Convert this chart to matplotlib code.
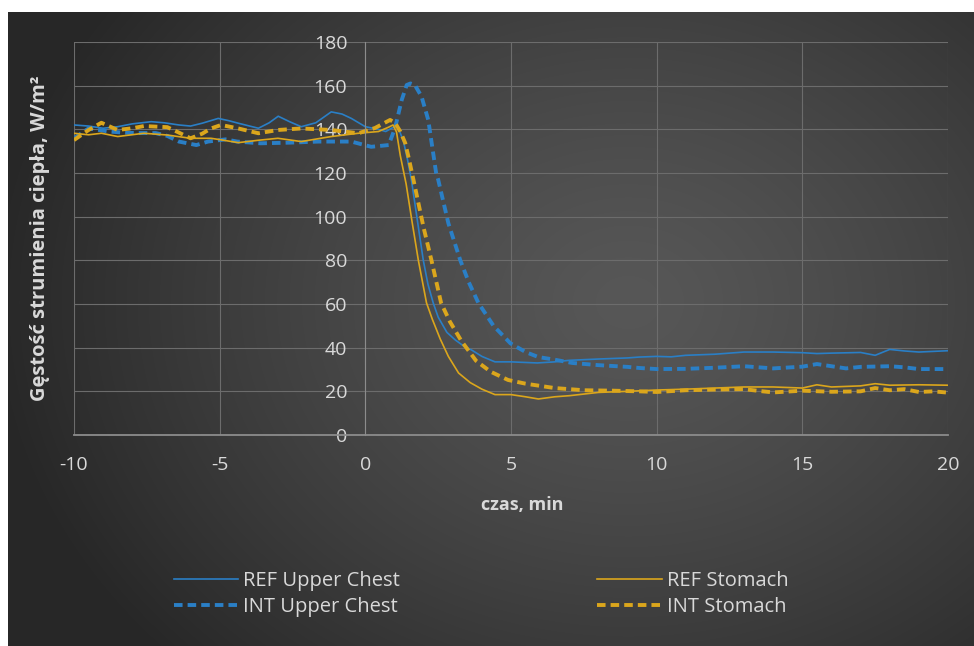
import matplotlib
matplotlib.use('Agg')
import matplotlib.pyplot as plt
import numpy as np

plt.rcParams['axes.unicode_minus'] = False

# REF Upper Chest
t_ref_chest = [-10, -9.5, -9, -8.5, -8, -7.35, -6.9, -6.4, -6, -5.6, -5.05, -4.7, -4.36, -3.67, -3.3,
               -2.99, -2.6, -2.2, -1.7, -1.17, -0.8, -0.48, 0, 0.45, 0.7, 0.9, 1.1, 1.3, 1.45, 1.58,
               1.8, 1.99, 2.15, 2.33, 2.5, 2.8, 3.09, 3.4, 3.64, 4.0, 4.45, 5, 5.9, 6.5, 7, 8, 9, 9.4,
               10, 10.5, 11, 12, 13, 14, 15, 15.5, 16, 17, 17.5, 18, 18.5, 19, 19.5, 20]
v_ref_chest = [142, 141.5, 140.5, 141.2, 142.5, 143.5, 143, 142, 141.5, 142.8, 145, 144, 142.8, 140.5, 143,
               146, 143.5, 141.2, 143, 148, 147, 145, 141.2, 140, 139, 140.5, 141.5, 135, 126, 117,
               97, 80, 69, 60.5, 54, 47, 43.5, 40.5, 39, 36, 33.5, 33.5, 33, 33.5, 34.2, 34.8, 35.3, 35.7,
               36, 35.8, 36.5, 37, 38, 38, 37.7, 37.3, 37.5, 37.8, 36.5, 39.2, 38.5, 38, 38.3, 38.6]

# INT Upper Chest
t_int_chest = [-10, -9.5, -8.8, -8.3, -7.9, -7.2, -6.8, -6.4, -5.8, -5.4, -4.8, -4.4, -3.6, -2.6, -1.6,
               -0.48, 0.2, 0.8, 1.02, 1.25, 1.42, 1.55, 1.7, 1.93, 2.16, 2.43, 2.5, 2.85, 3.26, 3.55,
               3.88, 4.4, 4.98, 5.5, 5.94, 6.5, 7.1, 8, 9, 9.4, 10, 11, 12, 13, 13.5, 14, 15, 15.5, 16,
               16.5, 17, 18, 18.5, 19, 20]
v_int_chest = [135.9, 140.4, 139, 138.5, 138.3, 138.3, 137, 134.4, 132.8, 134.4, 135.4, 134.4, 133.6, 133.9, 134.4,
               134.4, 132, 132.8, 140.6, 153.5, 160.3, 161, 160.3, 155, 144.3, 120, 117, 97, 80, 70,
               60.5, 50, 42, 38, 35.7, 34.5, 33, 32, 31.2, 30.7, 30.2, 30.3, 30.8, 31.5, 31, 30.5, 31.3, 32.5, 31.5,
               30.5, 31.2, 31.5, 31, 30.2, 30.2]

# REF Stomach
t_ref_stom = [-10, -9.5, -9.06, -8.5, -7.6, -6.8, -6, -5.3, -5.05, -4.36, -3.67, -3, -2.2, -1.17, -0.24,
              0.45, 0.8, 0.95, 1.07, 1.2, 1.4, 1.6, 1.82, 2.1, 2.3, 2.57, 2.85, 3.2, 3.6, 4.0, 4.45,
              5, 5.5, 5.94, 6.5, 7, 8, 9, 10, 11, 12, 13, 14, 15, 15.5, 16, 17, 17.5, 18, 19, 20]
v_ref_stom = [138.2, 137.5, 138.2, 136.7, 138.2, 137.4, 135.9, 135.9, 135.4, 133.9, 135, 135.9, 134.4, 136.7, 138.2,
              139, 141, 142, 138.8, 128, 115, 98, 80, 60.5, 53, 44, 36, 28.4, 24, 21, 18.5,
              18.5, 17.5, 16.5, 17.5, 18, 19.5, 20, 20.6, 21, 21.5, 22, 22, 21.5, 23, 22, 22.5, 23.5, 22.8, 23, 22.8]

# INT Stomach
t_int_stom = [-10, -9.5, -9.06, -8.5, -8, -7.6, -6.8, -6.4, -6.0, -5.6, -5.3, -4.95, -4.36, -3.67, -3,
              -2.2, -1.17, -0.24, 0.33, 0.85, 1.02, 1.2, 1.37, 1.48, 1.65, 2.0, 2.27, 2.6, 2.9, 3.3,
              3.8, 4.3, 4.9, 5.5, 6.5, 7.5, 8.5, 9.4, 10, 11, 12, 13, 13.5, 14, 15, 16, 17, 17.5, 18,
              18.5, 19, 19.5, 20]
v_int_stom = [135.1, 139.7, 143, 139.7, 140.5, 141.5, 141, 138.5, 135.9, 138, 140.4, 142, 140.4, 138.2, 139.7,
              140.4, 139.7, 138.2, 140.6, 144.3, 143, 139, 133.7, 127.4, 117, 95, 80, 60.5, 52, 43,
              34, 29, 25.2, 23.5, 21.5, 20.5, 20.3, 20, 19.7, 20.5, 20.8, 21, 20.2, 19.5, 20.3, 19.8, 20, 21.5, 20.5,
              21, 19.7, 20, 19.4]

x_ticks = [-10, -5, 0, 5, 10, 15, 20]
y_ticks = [0, 20, 40, 60, 80, 100, 120, 140, 160, 180]

blue = '#2a7fc6'
gold = '#dba61c'
txt = '#d9d9d9'
font = ['Open Sans', 'DejaVu Sans']

fig = plt.figure(figsize=(9.74, 6.46), dpi=100, facecolor='white')

# dark radial background
bg = fig.add_axes([8 / 974, 0, 966 / 974, 634 / 646], zorder=-2)
W, H = 966, 634
xx, yy = np.meshgrid(np.arange(W), np.arange(H))
r = np.sqrt(((xx - 620) / 640.0) ** 2 + ((yy - 290) / 520.0) ** 2)
r = np.clip(r, 0, 1)
c_in, c_out = 0x57 / 255, 0x27 / 255
img = c_in + (c_out - c_in) * r ** 1.3
bg.imshow(np.dstack([img, img, img]), aspect='auto')
bg.axis('off')

ax = fig.add_axes([74 / 974, 1 - 435 / 646, (948 - 74) / 974, (435 - 42) / 646])
ax.set_facecolor('none')

ax.plot(t_ref_chest, v_ref_chest, color=blue, lw=1.2, label='REF Upper Chest')
ax.plot(t_int_chest, v_int_chest, color=blue, lw=2.8, ls=(0, (2.2, 1.3)), label='INT Upper Chest')
ax.plot(t_ref_stom, v_ref_stom, color=gold, lw=1.2, label='REF Stomach')
ax.plot(t_int_stom, v_int_stom, color=gold, lw=2.8, ls=(0, (2.2, 1.3)), label='INT Stomach')

ax.set_xlim(-10, 20)
ax.set_ylim(0, 180)
ax.set_xticks(x_ticks)
ax.set_yticks(y_ticks)
ax.grid(True, color='#6c6c6c', lw=0.8)
ax.set_axisbelow(True)
for s in ['top', 'right']:
    ax.spines[s].set_visible(False)
ax.spines['left'].set_position(('data', 0))
ax.spines['left'].set_color('#8c8c8c')
ax.spines['bottom'].set_color('#8c8c8c')
ax.spines['bottom'].set_linewidth(1.3)
ax.tick_params(length=0, colors=txt, labelsize=14)
ax.tick_params(axis='y', pad=13)
ax.tick_params(axis='x', pad=15)
for lb in ax.get_xticklabels() + ax.get_yticklabels():
    lb.set_family(font)

fig.text(40 / 974, 1 - 238 / 646, 'Gęstość strumienia ciepła, W/m²', rotation=90,
         ha='center', va='center', color=txt, fontsize=14.5, fontweight='bold', family=font)
fig.text(522 / 974, 1 - 505 / 646, 'czas, min', ha='center', va='center',
         color=txt, fontsize=13, fontweight='bold', family=font)

leg = fig.legend(loc='center', bbox_to_anchor=(481 / 974, 1 - 594 / 646), ncol=2, frameon=False,
                 prop={'family': font, 'size': 14.5}, handlelength=3.2, handletextpad=0.25,
                 columnspacing=9.8, labelspacing=0.27)
for t in leg.get_texts():
    t.set_color(txt)

fig.savefig('out.png', dpi=100)
